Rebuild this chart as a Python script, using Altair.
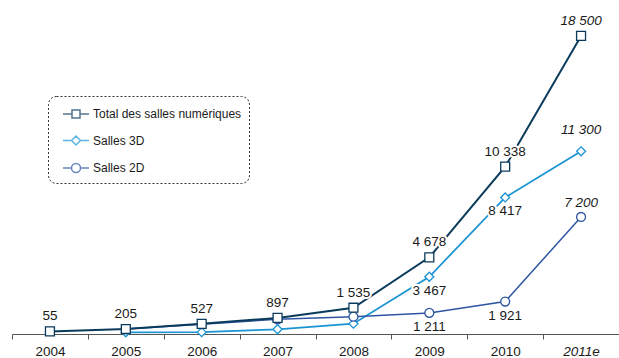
import altair as alt
import pandas as pd

years = ["2004", "2005", "2006", "2007", "2008", "2009", "2010", "2011e"]
series = ["Total des salles numériques", "Salles 3D", "Salles 2D"]
total = [55, 205, 527, 897, 1535, 4678, 10338, 18500]
salles_3d = [None, 0, 10, 190, 540, 3467, 8417, 11300]
salles_2d = [None, 200, 510, 810, 975, 1211, 1921, 7200]
colors = ["#0b3b5c", "#1b94d3", "#2d55a2"]
detail_years = ["2009", "2010", "2011e"]

rows = []
for name, vals in [(series[1], salles_3d), (series[2], salles_2d), (series[0], total)]:
    for y, v in zip(years, vals):
        if v is not None:
            rows.append({"serie": name, "year": y, "value": v})
df = pd.DataFrame(rows)

FONT = "Liberation Sans"
FS = 13.5

x_enc = alt.X(
    "year:N",
    sort=years,
    scale=alt.Scale(type="band", domain=years, paddingInner=0, paddingOuter=0),
    axis=alt.Axis(
        title=None, labelAngle=0, tickBand="extent", domainColor="#555",
        tickColor="#555", tickSize=5, labelPadding=5, labelFontSize=FS,
        labelFont=FONT, labelColor="#1a1a1a", grid=False,
        labelFontStyle={"condition": {"test": "datum.value == '2011e'", "value": "italic"}, "value": "normal"},
    ),
)
y_enc = alt.Y("value:Q", scale=alt.Scale(domain=[-106, 20743], nice=False, zero=False), axis=None)
color_scale = alt.Scale(domain=series, range=colors)

base = alt.Chart(df).encode(x=x_enc, y=y_enc)

lines = base.mark_line().encode(
    color=alt.Color("serie:N", scale=color_scale, legend=None),
    strokeWidth=alt.StrokeWidth("serie:N", scale=alt.Scale(domain=series, range=[2, 1.5, 1.5]), legend=None),
)

points = base.mark_point(filled=False, fill="white", fillOpacity=1, opacity=1, strokeWidth=1.3, size=80).encode(
    color=alt.Color("serie:N", scale=color_scale, legend=None),
    shape=alt.Shape("serie:N", scale=alt.Scale(domain=series, range=["square", "diamond", "circle"]), legend=None),
)

label_calc = "replace(format(datum.value, ','), ',', ' ')"
tot = "datum.serie == '" + series[0] + "'"
det = "indexof(" + str(detail_years[:2]) + ", datum.year) >= 0"


def labels(expr, dy, italic=False, halo=False):
    kw = dict(dy=dy, baseline="middle", align="center", font=FONT, fontSize=FS,
              fontStyle="italic" if italic else "normal", color="#1a1a1a")
    if halo:
        kw.update(stroke="white", strokeWidth=4, strokeJoin="round", color="white")
    return (alt.Chart(df).transform_filter(expr).transform_calculate(label=label_calc)
            .mark_text(**kw).encode(x=x_enc, y=y_enc, text="label:N"))


specs = [
    (tot + " && datum.year != '2011e'", -15, False),
    (tot + " && datum.year == '2011e'", -15, True),
    ("datum.serie == '" + series[1] + "' && datum.year == '2011e'", -21, True),
    ("datum.serie == '" + series[2] + "' && datum.year == '2011e'", -14, True),
    ("datum.serie != '" + series[0] + "' && " + det, 14, False),
]
halos = [labels(e, d, i, True) for e, d, i in specs]
texts = [labels(e, d, i) for e, d, i in specs]

paths = [
    "M-1.3,0H-0.4M0.4,0H1.3M-0.4,-0.4H0.4V0.4H-0.4Z",
    "M-1.3,0H-0.45M0.45,0H1.3M-0.45,0L0,-0.45L0.45,0L0,0.45Z",
    "M-1.3,0H-0.45M0.45,0H1.3M0.45,0A0.45,0.45,0,1,1,-0.45,0A0.45,0.45,0,1,1,0.45,0Z",
]
leg = alt.Legend(
    title=None, orient="none", legendX=36, legendY=96, padding=7, rowPadding=8.5,
    symbolSize=400, symbolOffset=10, labelOffset=6, symbolStrokeWidth=1.5,
    labelFont=FONT, labelFontSize=12, labelColor="#1a1a1a", labelLimit=300,
    strokeColor="#333", cornerRadius=8, fillColor="white",
)
legend_layer = alt.Chart(df).transform_filter("false").mark_point(filled=False, strokeWidth=1.5).encode(
    color=alt.Color("serie:N", scale=alt.Scale(domain=series, range=colors), legend=leg),
    shape=alt.Shape("serie:N", scale=alt.Scale(domain=series, range=paths), legend=leg),
)

chart = alt.layer(lines, *halos, points, *texts, legend_layer).resolve_scale(
    color="independent", shape="independent", strokeWidth="independent"
).properties(
    width=607, height=334,
    padding={"left": 12, "top": 0, "right": 0, "bottom": 24},
    autosize=alt.AutoSizeParams(type="none"),
).configure_view(stroke=None).configure_legend(strokeDash=[2, 2], strokeWidth=1)

chart.save("out.html", embed_options={"renderer": "svg", "actions": False})
